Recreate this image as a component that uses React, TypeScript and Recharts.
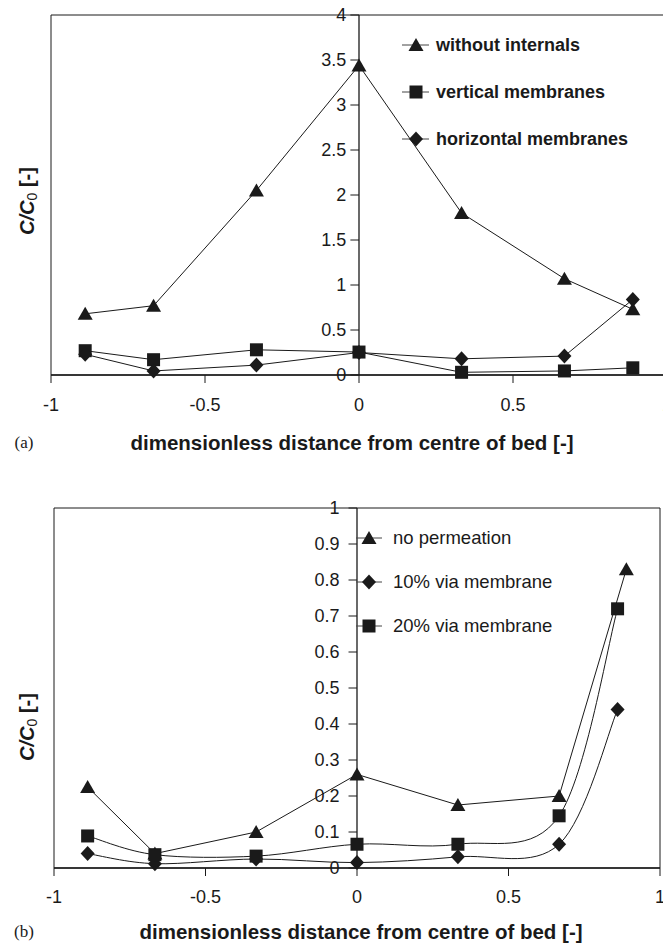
import { Legend, Line, LineChart, ReferenceArea, ReferenceLine, XAxis, YAxis } from 'recharts';

const INK = '#1a1a1a';
const SANS = '"Liberation Sans", Arial, Helvetica, sans-serif';
const SERIF = '"Liberation Serif", "Times New Roman", serif';

// shared x axis
const xTicks = [-1, -0.5, 0, 0.5, 1];

// panel (a)
const topX = [-0.889, -0.667, -0.333, 0, 0.333, 0.667, 0.889];
const withoutInternals = [0.68, 0.77, 2.05, 3.44, 1.8, 1.07, 0.73];
const verticalMembranes = [0.27, 0.17, 0.28, 0.255, 0.03, 0.045, 0.08];
const horizontalMembranes = [0.23, 0.045, 0.11, 0.25, 0.18, 0.21, 0.84];
const topYTicks = [0, 0.5, 1, 1.5, 2, 2.5, 3, 3.5, 4];

// panel (b)
const bottomX = [-0.889, -0.667, -0.333, 0, 0.333, 0.667, 0.889];
const bottomXMembrane = [-0.889, -0.667, -0.333, 0, 0.333, 0.667, 0.86];
const noPermeation = [0.225, 0.04, 0.1, 0.26, 0.175, 0.2, 0.83];
const tenPercent = [0.04, 0.012, 0.025, 0.015, 0.031, 0.066, 0.44];
const twentyPercent = [0.089, 0.037, 0.033, 0.066, 0.066, 0.145, 0.72];
const bottomYTicks = [0, 0.1, 0.2, 0.3, 0.4, 0.5, 0.6, 0.7, 0.8, 0.9, 1];

type Shape = 'triangle' | 'square' | 'diamond';

interface Series {
  name: string;
  xs: number[];
  ys: number[];
  shape: Shape;
  smooth?: boolean;
}

const topSeries: Series[] = [
  { name: 'without internals', xs: topX, ys: withoutInternals, shape: 'triangle' },
  { name: 'vertical membranes', xs: topX, ys: verticalMembranes, shape: 'square' },
  { name: 'horizontal membranes', xs: topX, ys: horizontalMembranes, shape: 'diamond' },
];

const bottomSeries: Series[] = [
  { name: 'no permeation', xs: bottomX, ys: noPermeation, shape: 'triangle' },
  { name: '10% via membrane', xs: bottomXMembrane, ys: tenPercent, shape: 'diamond', smooth: true },
  { name: '20% via membrane', xs: bottomXMembrane, ys: twentyPercent, shape: 'square', smooth: true },
];

const toPoints = (xs: number[], ys: number[]) => xs.map((x, i) => ({ x, y: ys[i] }));

// excel style smoothed line (catmull-rom through the points)
const excelSmooth = (context: any) => {
  let pts: [number, number][] = [];
  return {
    areaStart() {},
    areaEnd() {},
    lineStart() {
      pts = [];
    },
    point(x: number, y: number) {
      pts.push([+x, +y]);
    },
    lineEnd() {
      if (!pts.length) return;
      context.moveTo(pts[0][0], pts[0][1]);
      for (let i = 0; i < pts.length - 1; i++) {
        const p0 = pts[Math.max(0, i - 1)];
        const p1 = pts[i];
        const p2 = pts[i + 1];
        const p3 = pts[Math.min(pts.length - 1, i + 2)];
        context.bezierCurveTo(
          p1[0] + (p2[0] - p0[0]) / 6,
          p1[1] + (p2[1] - p0[1]) / 6,
          p2[0] - (p3[0] - p1[0]) / 6,
          p2[1] - (p3[1] - p1[1]) / 6,
          p2[0],
          p2[1]
        );
      }
    },
  };
};

const Marker = ({ shape, cx, cy }: { shape: Shape; cx: number; cy: number }) => {
  if (shape === 'triangle') {
    return <polygon points={`${cx},${cy - 7} ${cx + 7.5},${cy + 6} ${cx - 7.5},${cy + 6}`} fill={INK} />;
  }
  if (shape === 'square') {
    return <rect x={cx - 6.5} y={cy - 6.5} width={13} height={13} fill={INK} />;
  }
  return <polygon points={`${cx},${cy - 7.5} ${cx + 7},${cy} ${cx},${cy + 7.5} ${cx - 7},${cy}`} fill={INK} />;
};

const dotFor = (shape: Shape) => (props: any) => {
  if (props.cx == null || props.cy == null) return <g key={`${shape}-${props.index}`} />;
  return (
    <g key={`${shape}-${props.index}`}>
      <Marker shape={shape} cx={props.cx} cy={props.cy} />
    </g>
  );
};

interface LegendProps {
  items: Series[];
  bold?: boolean;
  rowHeight: number;
  lineWidth: number;
  markerX: number;
  gap: number;
  fontSize: number;
}

const LegendBox = ({ items, bold, rowHeight, lineWidth, markerX, gap, fontSize }: LegendProps) => (
  <div style={{ fontFamily: SANS }}>
    {items.map((it) => (
      <div key={it.name} style={{ display: 'flex', alignItems: 'center', height: rowHeight }}>
        <svg width={lineWidth} height={18} style={{ display: 'block', overflow: 'visible' }}>
          <line x1={0} y1={9} x2={lineWidth} y2={9} stroke="#444" strokeWidth={1} />
          <Marker shape={it.shape} cx={markerX} cy={9} />
        </svg>
        <span
          style={{
            marginLeft: gap,
            fontSize,
            fontWeight: bold ? 'bold' : 'normal',
            color: INK,
            whiteSpace: 'nowrap',
            lineHeight: 1,
          }}
        >
          {it.name}
        </span>
      </div>
    ))}
  </div>
);

const YTitle = ({ cy }: any) => (
  <text
    transform={`translate(27,${cy}) rotate(-90)`}
    textAnchor="middle"
    dominantBaseline="central"
    fontSize={20}
    fontWeight="bold"
    fill={INK}
    fontFamily={SANS}
  >
    <tspan fontStyle="italic">C/C</tspan>
    <tspan fontSize={14} fontWeight="normal" dy={5}>0</tspan>
    <tspan dy={-5}> [-]</tspan>
  </text>
);

const XTitle = ({ cx, cy, tag }: any) => (
  <g>
    <text x={24} y={cy} textAnchor="middle" dominantBaseline="central" fontSize={17} fill={INK} fontFamily={SERIF}>
      {tag}
    </text>
    <text x={cx} y={cy} textAnchor="middle" dominantBaseline="central" fontSize={20.5} fontWeight="bold" fill={INK} fontFamily={SANS}>
      dimensionless distance from centre of bed [-]
    </text>
  </g>
);

const TICK = 0.028;

const yTickLines = (ticks: number[], offset: number) =>
  ticks.map((v) => (
    <ReferenceLine
      key={`yt-${v}`}
      segment={[
        { x: -TICK, y: v },
        { x: 0, y: v },
      ]}
      stroke={INK}
      strokeWidth={1}
      label={{ value: String(v), position: 'left', offset, fill: INK, fontSize: 18 }}
    />
  ));

const seriesLines = (list: Series[]) =>
  list.map((s) => (
    <Line
      key={s.name}
      name={s.name}
      data={toPoints(s.xs, s.ys)}
      dataKey="y"
      type={s.smooth ? (excelSmooth as any) : 'linear'}
      stroke={INK}
      strokeWidth={1}
      dot={dotFor(s.shape)}
      activeDot={false}
      isAnimationActive={false}
    />
  ));

const TopPanel = () => (
  <LineChart width={667} height={462} margin={{ top: 15, right: 0, bottom: 0, left: 0 }}>
    <XAxis
      type="number"
      dataKey="x"
      domain={[-1, 1]}
      ticks={xTicks}
      interval={0}
      tickSize={8}
      tickMargin={15}
      height={87}
      axisLine={{ stroke: INK, strokeWidth: 1.5 }}
      tickLine={{ stroke: INK }}
      tick={{ fill: INK, fontSize: 18 }}
      label={<XTitle cx={352} cy={442} tag="(a)" />}
    />
    <YAxis type="number" domain={[0, 4]} ticks={topYTicks} width={51} tick={false} tickLine={false} axisLine={false} label={<YTitle cy={201} />} />
    <ReferenceArea x1={-1} x2={1} y1={0} y2={4} fill="none" stroke={INK} strokeWidth={1} />
    <ReferenceLine x={0} stroke={INK} strokeWidth={1.3} />
    {yTickLines(topYTicks, 4)}
    {seriesLines(topSeries)}
    <Legend
      layout="vertical"
      align="center"
      verticalAlign="middle"
      wrapperStyle={{ left: 402, top: 21, width: 260, height: 'auto' }}
      content={() => <LegendBox items={topSeries} bold rowHeight={47} lineWidth={27} markerX={14} gap={7} fontSize={18} />}
    />
  </LineChart>
);

const BottomPanel = () => (
  <LineChart width={663} height={478} margin={{ top: 43, right: 3, bottom: 0, left: 0 }}>
    <XAxis
      type="number"
      dataKey="x"
      domain={[-1, 1]}
      ticks={xTicks}
      interval={0}
      tickSize={8}
      tickMargin={14}
      height={75}
      axisLine={{ stroke: INK, strokeWidth: 1.5 }}
      tickLine={{ stroke: INK }}
      tick={{ fill: INK, fontSize: 18 }}
      label={<XTitle cx={361} cy={466} tag="(b)" />}
    />
    <YAxis type="number" domain={[0, 1]} ticks={bottomYTicks} width={54} tick={false} tickLine={false} axisLine={false} label={<YTitle cy={262} />} />
    <ReferenceArea x1={-1} x2={1} y1={0} y2={1} fill="none" stroke={INK} strokeWidth={1} />
    <ReferenceLine x={0} stroke={INK} strokeWidth={1.3} />
    {yTickLines(bottomYTicks, 9)}
    {seriesLines(bottomSeries)}
    <Legend
      layout="vertical"
      align="center"
      verticalAlign="middle"
      wrapperStyle={{ left: 356, top: 51, width: 260, height: 'auto' }}
      content={() => <LegendBox items={bottomSeries} rowHeight={44} lineWidth={26} markerX={13} gap={11} fontSize={18.5} />}
    />
  </LineChart>
);

export default function App() {
  return (
    <div
      style={{
        position: 'fixed',
        left: 0,
        top: 0,
        width: 663,
        height: 943,
        overflow: 'hidden',
        background: '#fff',
        fontFamily: SANS,
      }}
    >
      <div style={{ position: 'absolute', left: 0, top: 0 }}>
        <TopPanel />
      </div>
      <div style={{ position: 'absolute', left: 0, top: 465 }}>
        <BottomPanel />
      </div>
    </div>
  );
}
